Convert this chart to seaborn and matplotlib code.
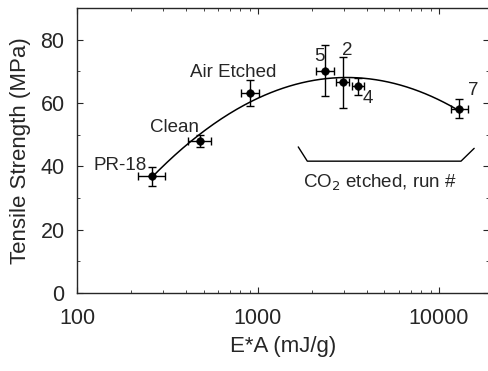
import numpy as np
import pandas as pd
import matplotlib
matplotlib.use("Agg")
import matplotlib.pyplot as plt
import seaborn as sns

# --- dados ---
labels = ["PR-18", "Clean", "Air Etched", "5", "2", "4", "7"]
energy = [259, 480, 906, 2355, 2938, 3557, 12950]          # E*A (mJ/g)
x_lo = [216, 409, 805, 2089, 2700, 3300, 11640]
x_hi = [306, 550, 1016, 2641, 3200, 3850, 14520]
strength = [36.9, 48.0, 63.2, 70.3, 66.6, 65.3, 58.3]      # MPa
y_err = [3.0, 2.0, 4.1, 8.0, 8.0, 2.7, 3.1]

sns.set_style("ticks")
plt.rcParams["font.family"] = ["Liberation Sans", "DejaVu Sans"]

df = pd.DataFrame({"E": energy, "S": strength})

fig = plt.figure(figsize=(4.89, 3.71), dpi=100)
ax = fig.add_axes([0.1575, 0.21, 0.8425, 0.768])

# curva ajustada: quadrática em log10(E)
coef = np.polyfit(np.log10(df["E"]), df["S"], 2)
xs = np.logspace(np.log10(min(energy)), np.log10(max(energy)), 200)
fit = pd.DataFrame({"E": xs, "S": np.polyval(coef, np.log10(xs))})
sns.lineplot(data=fit, x="E", y="S", ax=ax, color="black", lw=1.1)

xerr = [np.array(energy) - np.array(x_lo), np.array(x_hi) - np.array(energy)]
ax.errorbar(energy, strength, xerr=xerr, yerr=y_err, fmt="none",
            ecolor="black", elinewidth=1.0, capsize=3, capthick=1.0)
sns.scatterplot(data=df, x="E", y="S", ax=ax, color="black", s=30,
                edgecolor="black", zorder=5)

ax.set_xscale("log")
ax.set_xlim(100, 18900)
ax.set_ylim(0, 90)
ax.set_yticks([0, 20, 40, 60, 80])
ax.set_yticks([10, 30, 50, 70], minor=True)
ax.set_xticks([100, 1000, 10000])
ax.set_xticklabels(["100", "1000", "10000"])
ax.tick_params(which="both", direction="in", top=True, right=True, labelsize=15.5)
ax.tick_params(axis="x", which="major", pad=11)
ax.tick_params(axis="y", which="major", pad=9)
ax.tick_params(which="major", length=4)
ax.tick_params(which="minor", length=2)
for s in ax.spines.values():
    s.set_linewidth(1.0)
ax.set_xlabel("E*A (mJ/g)", fontsize=16, labelpad=5)
ax.set_ylabel("Tensile Strength (MPa)", fontsize=16, labelpad=7)

# rótulos dos pontos (deslocamento em pontos)
offsets = {"PR-18": (-4, 8, "right"), "Clean": (-1, 10, "right"),
           "Air Etched": (-12, 15, "center"), "5": (-4, 10, "center"),
           "2": (3, 23, "center"), "4": (7, -9, "center"), "7": (10, 13, "center")}
for lab, x, y in zip(labels, energy, strength):
    dx, dy, ha = offsets[lab]
    ax.annotate(lab, (x, y), xytext=(dx, dy), textcoords="offset points",
                ha=ha, va="center", fontsize=13.5)

# chave dos pontos CO2
ax.plot([0.537, 0.559, 0.932, 0.964], [0.513, 0.463, 0.463, 0.508],
        transform=ax.transAxes, color="black", lw=1.0)
ax.text(0.736, 0.387, "CO$_2$ etched, run #", transform=ax.transAxes,
        ha="center", va="center", fontsize=13.5)

fig.savefig("out.png", dpi=100)
